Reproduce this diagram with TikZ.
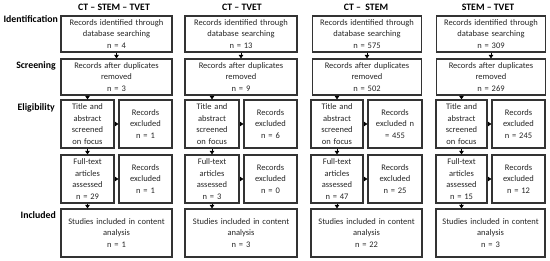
\documentclass[tikz,border=0pt]{standalone}
\usepackage{fontspec}
\setmainfont{Carlito}
\usetikzlibrary{arrows.meta}
\definecolor{ln}{HTML}{333333}
\definecolor{tx}{HTML}{262626}
\tikzset{
  box/.style={draw=ln, line width=1.2pt, inner sep=0pt, align=center, text=tx,
    font=\fontsize{8.5}{11.7}\selectfont},
  wide/.style={box, minimum width=#1pt, text width=#1pt-4pt},
  hdr/.style={font=\fontsize{9.8}{11}\selectfont\bfseries, inner sep=0pt},
  lbl/.style={font=\fontsize{9.8}{11}\selectfont\bfseries, inner sep=0pt, anchor=east},
  arr/.style={draw=black, line width=0.8pt, -{Triangle[length=3.4pt,width=4.4pt]}}
}
\begin{document}
\begin{tikzpicture}[x=1pt,y=-1pt]
\useasboundingbox (0,0) rectangle (550,261);
% row labels
\node[lbl] (lid) at (58,19) {Identification};
\node[lbl] (lsc) at (56,66) {Screening};
\node[lbl] (lel) at (55,108) {Eligibility};
\node[lbl] (lin) at (56,215) {Included};
% headers
\node[hdr] (h1) at (114,7) {CT – STEM – TVET};
\node[hdr] (h2) at (242,7) {CT – TVET};
\node[hdr] (h3) at (366,7) {CT –\ \ STEM};
\node[hdr] (h4) at (488,7) {STEM – TVET};

% ---------- column 1 ----------
\node[wide=111, minimum height=36pt] (a1) at (116.5,34) {Records identified through\\database searching\\n = 4};
\node[wide=111, minimum height=36pt] (a2) at (116.5,77) {Records after duplicates\\removed\\n = 3};
\node[wide=53, minimum height=48pt] (a3) at (87.5,124) {Title and\\abstract\\screened\\on focus};
\node[wide=53, minimum height=48pt] (a3r) at (145.5,124) {Records\\excluded\\n = 1};
\node[wide=53, minimum height=48pt] (a4) at (87.5,179) {Full-text\\articles\\assessed\\n = 29};
\node[wide=53, minimum height=48pt] (a4r) at (145.5,179) {Records\\excluded\\n = 1};
\node[wide=111, minimum height=48pt] (a5) at (116.5,233) {Studies included in content\\analysis\\n = 1};
\draw[arr] (a1.south) -- (a2.north);
\draw[arr] (a3.north |- a2.south) -- (a3.north);
\draw[arr] (a3.east) -- (a3r.west);
\draw[arr] (a3.south) -- (a4.north);
\draw[arr] (a4.east) -- (a4r.west);
\draw[arr] (a4.south) -- (a4.south |- a5.north);

% ---------- column 2 ----------
\node[wide=112, minimum height=36pt] (b1) at (241,34) {Records identified through\\database searching\\n = 13};
\node[wide=112, minimum height=36pt] (b2) at (241,77) {Records after duplicates\\removed\\n = 9};
\node[wide=54, minimum height=48pt] (b3) at (212,124) {Title and\\abstract\\screened\\on focus};
\node[wide=53, minimum height=48pt] (b3r) at (270.5,124) {Records\\excluded\\n = 6};
\node[wide=54, minimum height=48pt] (b4) at (212,179) {Full-text\\articles\\assessed\\n = 3};
\node[wide=53, minimum height=48pt] (b4r) at (270.5,179) {Records\\excluded\\n = 0};
\node[wide=112, minimum height=48pt] (b5) at (241,233) {Studies included in content\\analysis\\n = 3};
\draw[arr] (b1.south) -- (b2.north);
\draw[arr] (b3.north |- b2.south) -- (b3.north);
\draw[arr] (b3.east) -- (b3r.west);
\draw[arr] (b3.south) -- (b4.north);
\draw[arr] (b4.east) -- (b4r.west);
\draw[arr] (b4.south) -- (b4.south |- b5.north);

% ---------- column 3 ----------
\node[wide=109, minimum height=36pt] (c1) at (367,34) {Records identified through\\database searching\\n = 575};
\node[wide=109, minimum height=36pt] (c2) at (367,77) {Records after duplicates\\removed\\n = 502};
\node[wide=52, minimum height=48pt] (c3) at (337,124) {Title and\\abstract\\screened\\on focus};
\node[wide=54, minimum height=48pt] (c3r) at (395,124) {Records\\excluded n\\= 455};
\node[wide=52, minimum height=48pt] (c4) at (337,179) {Full-text\\articles\\assessed\\n = 47};
\node[wide=54, minimum height=48pt] (c4r) at (395,179) {Records\\excluded\\n = 25};
\node[wide=111, minimum height=48pt] (c5) at (366.5,233) {Studies included in content\\analysis\\n = 22};
\draw[arr] (c1.south) -- (c2.north);
\draw[arr] (c3.north |- c2.south) -- (c3.north);
\draw[arr] (c3.east) -- (c3r.west);
\draw[arr] (c3.south) -- (c4.north);
\draw[arr] (c4.east) -- (c4r.west);
\draw[arr] (c4.south) -- (c4.south |- c5.north);

% ---------- column 4 ----------
\node[wide=109, minimum height=36pt] (d1) at (491,34) {Records identified through\\database searching\\n = 309};
\node[wide=109, minimum height=36pt] (d2) at (491,77) {Records after duplicates\\removed\\n = 269};
\node[wide=51, minimum height=48pt] (d3) at (461.5,124) {Title and\\abstract\\screened\\on focus};
\node[wide=53, minimum height=48pt] (d3r) at (518.5,124) {Records\\excluded\\n = 245};
\node[wide=51, minimum height=48pt] (d4) at (461.5,179) {Full-text\\articles\\assessed\\n = 15};
\node[wide=53, minimum height=48pt] (d4r) at (518.5,179) {Records\\excluded\\n = 12};
\node[wide=109, minimum height=48pt] (d5) at (490.5,233) {Studies included in content\\analysis\\n = 3};
\draw[arr] (d1.south) -- (d2.north);
\draw[arr] (d3.north |- d2.south) -- (d3.north);
\draw[arr] (d3.east) -- (d3r.west);
\draw[arr] (d3.south) -- (d4.north);
\draw[arr] (d4.east) -- (d4r.west);
\draw[arr] (d4.south) -- (d4.south |- d5.north);
\end{tikzpicture}
\end{document}
